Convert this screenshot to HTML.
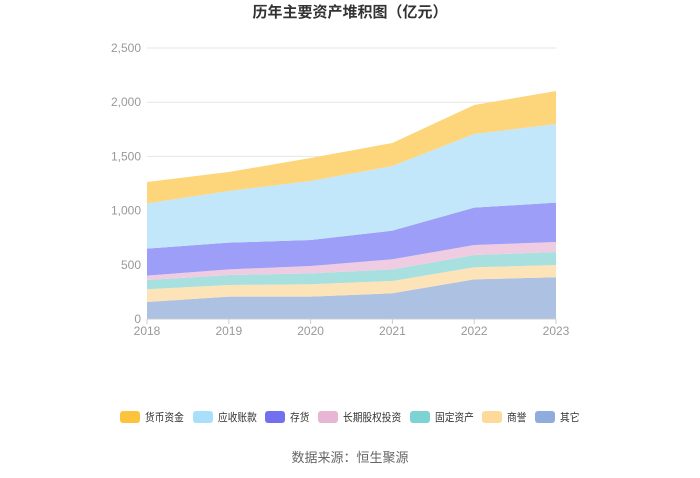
<!DOCTYPE html>
<html><head><meta charset="utf-8"><style>
body{margin:0;background:#fff;width:700px;height:473px;overflow:hidden;font-family:"Liberation Sans","Noto Sans CJK SC",sans-serif}
</style></head><body>
<svg id="c" width="700" height="473">
<text x="350" y="17" text-anchor="middle" font-size="15" font-weight="bold" fill="#333">历年主要资产堆积图（亿元）</text>
<g id="grid"></g><g id="areas"></g><g id="axes"></g><g id="legend"></g>
<text x="350" y="462" text-anchor="middle" font-size="13" fill="#666">数据来源：恒生聚源</text>
</svg>
<script>
const years=['2018','2019','2020','2021','2022','2023'];
const yTicks=[0,500,1000,1500,2000,2500];
const yTickLabels=['0','500','1,000','1,500','2,000','2,500'];
const seriesNames=['其它','商誉','固定资产','长期股权投资','存货','应收账款','货币资金'];
const other=[157,206,206,237,366,385];
const goodwill=[117,108,114,114,111,113];
const fixed=[86,92,101,107,113,120];
const ltEquity=[40,52,68,93,93,92];
const inventory=[249,246,240,264,344,363];
const receivable=[418,477,544,596,680,726];
const cash=[197,175,212,213,267,304];
const fills=['#adc1e3','#fde3b8','#a8e0e0','#f0cce3','#9d9ef7','#c2e7fb','#fdd57a'];
const icons=['#8eacdc','#fdd99a','#7dd3d3','#e8b5d5','#7370f0','#a8dffa','#fbc43c'];
const series=[other,goodwill,fixed,ltEquity,inventory,receivable,cash];
const X0=147,X1=556,Y0=319,Y1=48,YMAX=2500;
const xs=i=>X0+(X1-X0)*i/(years.length-1);
const ys=v=>Y0-(Y0-Y1)*v/YMAX;
const NS='http://www.w3.org/2000/svg';
function mk(t,a,p){const e=document.createElementNS(NS,t);for(const k in a)e.setAttribute(k,a[k]);p.appendChild(e);return e;}
const grid=document.getElementById('grid'),axes=document.getElementById('axes'),areas=document.getElementById('areas'),legend=document.getElementById('legend');
yTicks.forEach((t,i)=>{
 if(i>0){const l=mk('line',{x1:X0,x2:X1,y1:ys(t),y2:ys(t),stroke:'#e6e6e6'},grid);
 
 }
 const tx=mk('text',{x:X0-6,y:ys(t)+4,'text-anchor':'end','font-size':12,fill:'#999'},axes);tx.textContent=yTickLabels[i];
 
 
});
let base=years.map(()=>0);
series.forEach((s,k)=>{
 const top=s.map((v,i)=>base[i]+v);
 let d='M'+years.map((_,i)=>xs(i)+','+ys(top[i])).join('L');
 for(let i=years.length-1;i>=0;i--)d+='L'+xs(i)+','+ys(base[i]);
 const p=mk('path',{d:d+'Z',fill:fills[k]},areas);
 
 
 base=top;
});
const ax=mk('line',{x1:X0,x2:X1,y1:Y0,y2:Y0,stroke:'#ccc'},axes);


years.forEach((y,i)=>{
 const tk=mk('line',{x1:xs(i),x2:xs(i),y1:Y0,y2:Y0+5,stroke:'#ccc'},axes);
 
 
 const t=mk('text',{x:xs(i),y:Y0+16,'text-anchor':'middle','font-size':12,fill:'#999'},axes);t.textContent=y;
 
 
});
const legOrder=[6,5,4,3,2,1,0];
const legX=[120,193,265,318,410,482,535];
legOrder.forEach((k,j)=>{
 const g=mk('g',{},legend);
 
 
 mk('rect',{x:legX[j],y:411,width:20,height:12,rx:3,fill:icons[k]},g);
 const n=seriesNames[k].length;
 const t=mk('text',{x:legX[j]+25,y:421,'font-size':11,fill:'#333',textLength:n*9.7,lengthAdjust:'spacingAndGlyphs'},g);t.textContent=seriesNames[k];
});
</script>
</body></html>
